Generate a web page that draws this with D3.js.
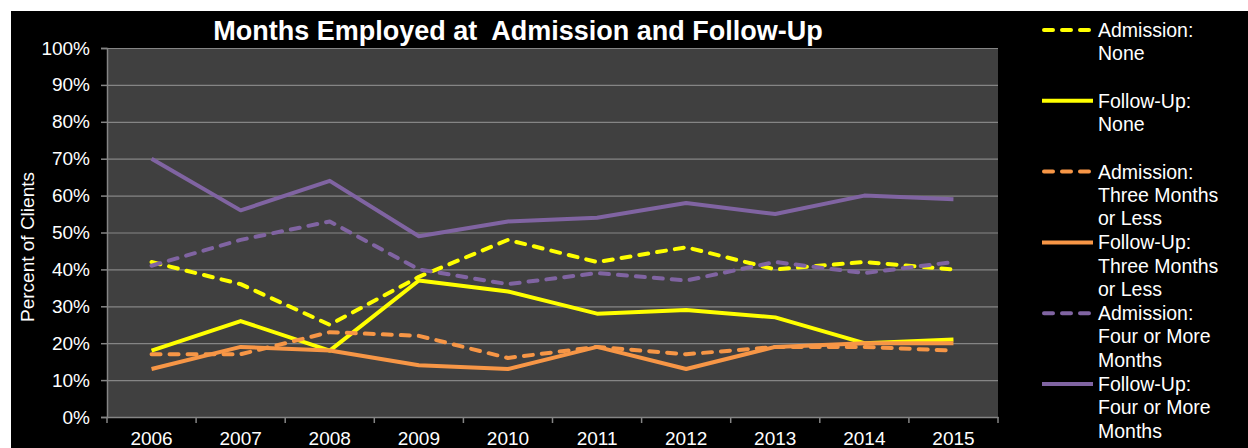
<!DOCTYPE html>
<html>
<head>
<meta charset="utf-8">
<script src="https://cdn.jsdelivr.net/npm/d3@7"></script>
<style>
  body { margin: 0; background: #fff; }
  text { font-family: "Liberation Sans", Arial, sans-serif; fill: #fff; }
</style>
</head>
<body>
<script>
// Data (percent of clients)
var years = ["2006", "2007", "2008", "2009", "2010", "2011", "2012", "2013", "2014", "2015"];
var admissionNone   = [42, 36, 25, 38, 48, 42, 46, 40, 42, 40];
var followUpNone    = [18, 26, 18, 37, 34, 28, 29, 27, 20, 21];
var admissionThree  = [17, 17, 23, 22, 16, 19, 17, 19, 19, 18];
var followUpThree   = [13, 19, 18, 14, 13, 19, 13, 19, 20, 20];
var admissionFour   = [41, 48, 53, 40, 36, 39, 37, 42, 39, 42];
var followUpFour    = [70, 56, 64, 49, 53, 54, 58, 55, 60, 59];
var yTicks = [0, 10, 20, 30, 40, 50, 60, 70, 80, 90, 100];

// legend labels, each one split into its lines
var seriesNames = [
    ["Admission:", "None"],
    ["Follow-Up:", "None"],
    ["Admission:", "Three Months", "or Less"],
    ["Follow-Up:", "Three Months", "or Less"],
    ["Admission:", "Four or More", "Months"],
    ["Follow-Up:", "Four or More", "Months"]
];
var seriesColors = ["#ffff00", "#ffff00", "#f79646", "#f79646", "#8064a2", "#8064a2"];
var seriesDashed = [true, false, true, false, true, false];

var series = [admissionNone, followUpNone, admissionThree, followUpThree, admissionFour, followUpFour]
    .map(function(values, i) {
        return {
            name: seriesNames[i],
            color: seriesColors[i],
            dashed: seriesDashed[i],
            values: values.map(function(v, j) { return {year: years[j], pct: v}; })
        };
    });

var canvas = {w: 1248, h: 448},
    plot = {left: 107, top: 48, right: 998, bottom: 417};

var svg = d3.select("body").append("svg")
    .attr("width", canvas.w)
    .attr("height", canvas.h);

// black chart area (white strip at top/left)
svg.append("rect")
    .attr("x", 11).attr("y", 11)
    .attr("width", canvas.w - 11).attr("height", canvas.h - 11)
    .attr("fill", "#000");

var x = d3.scaleBand().domain(years).range([plot.left, plot.right]),
    y = d3.scaleLinear().domain([0, 100]).range([plot.bottom, plot.top]);

// grey plot background
svg.append("rect")
    .attr("x", plot.left).attr("y", plot.top)
    .attr("width", plot.right - plot.left).attr("height", plot.bottom - plot.top)
    .attr("fill", "#404040");

// horizontal gridlines
svg.append("g")
    .attr("transform", "translate(" + plot.left + ",0)")
    .call(d3.axisLeft(y).tickValues(yTicks).tickSize(-(plot.right - plot.left)).tickFormat(""))
    .call(function(g) { g.select(".domain").remove(); })
    .selectAll("line").attr("stroke", "#858585").attr("stroke-width", 1.2);

// y axis
var yAxis = svg.append("g")
    .attr("transform", "translate(" + plot.left + ",0)")
    .call(d3.axisLeft(y).tickValues(yTicks).tickSize(6).tickPadding(11)
          .tickFormat(function(d) { return d + "%"; }));
yAxis.select(".domain").attr("stroke", "#858585").attr("stroke-width", 1.5);
yAxis.selectAll("line").attr("stroke", "#858585").attr("stroke-width", 1.5);
yAxis.selectAll("text").attr("fill", "#fff").style("font-size", "19px")
    .style("font-family", "'Liberation Sans', Arial, sans-serif");

// x axis, ticks between the categories
var xAxis = svg.append("g")
    .attr("transform", "translate(0," + plot.bottom + ")")
    .call(d3.axisBottom(x).tickSize(0).tickPadding(15));
xAxis.select(".domain").attr("stroke", "#858585").attr("stroke-width", 1.5);
xAxis.selectAll("text").attr("fill", "#fff").style("font-size", "19px")
    .style("font-family", "'Liberation Sans', Arial, sans-serif");
xAxis.selectAll(".boundary")
    .data(years.concat(["end"]))
    .enter().append("line")
    .attr("x1", function(d, i) { return plot.left + i * x.step(); })
    .attr("x2", function(d, i) { return plot.left + i * x.step(); })
    .attr("y1", 0).attr("y2", 6)
    .attr("stroke", "#858585").attr("stroke-width", 1.5);

// y axis title
svg.append("text")
    .attr("transform", "translate(34," + 247 + ") rotate(-90)")
    .attr("text-anchor", "middle")
    .style("font-size", "19px")
    .text("Percent of Clients");

// chart title (double space kept as in the original)
svg.append("text")
    .attr("x", 518).attr("y", 40)
    .attr("text-anchor", "middle")
    .style("font-size", "27px").style("font-weight", "bold")
    .style("white-space", "pre")
    .text("Months Employed at  Admission and Follow-Up");

var line = d3.line()
    .x(function(d) { return x(d.year) + x.bandwidth() / 2; })
    .y(function(d) { return y(d.pct); });

svg.selectAll(".series")
    .data(series)
    .enter().append("path")
    .attr("class", "series")
    .attr("d", function(d) { return line(d.values); })
    .attr("fill", "none")
    .attr("stroke", function(d) { return d.color; })
    .attr("stroke-width", 4)
    .attr("stroke-linejoin", "round")
    .attr("stroke-linecap", function(d) { return d.dashed ? "round" : "butt"; })
    .attr("stroke-dasharray", function(d) { return d.dashed ? "9,9" : null; });

// legend on the right
var legend = svg.selectAll(".legend")
    .data(series)
    .enter().append("g")
    .attr("class", "legend")
    .attr("transform", function(d, i) { return "translate(1042," + (37 + i * 70.8) + ")"; });

legend.append("line")
    .attr("x1", function(d) { return d.dashed ? 2 : 0; })
    .attr("x2", 51)
    .attr("y1", -7).attr("y2", -7)
    .attr("stroke", function(d) { return d.color; })
    .attr("stroke-width", 4)
    .attr("stroke-linecap", function(d) { return d.dashed ? "round" : "butt"; })
    .attr("stroke-dasharray", function(d) { return d.dashed ? "9,9" : null; });

legend.append("text")
    .attr("x", 56)
    .style("font-size", "19.5px")
    .selectAll("tspan")
    .data(function(d) { return d.name; })
    .enter().append("tspan")
    .attr("x", 56)
    .attr("y", function(d, i) { return i * 23.3; })
    .text(function(d) { return d; });
</script>
</body>
</html>
